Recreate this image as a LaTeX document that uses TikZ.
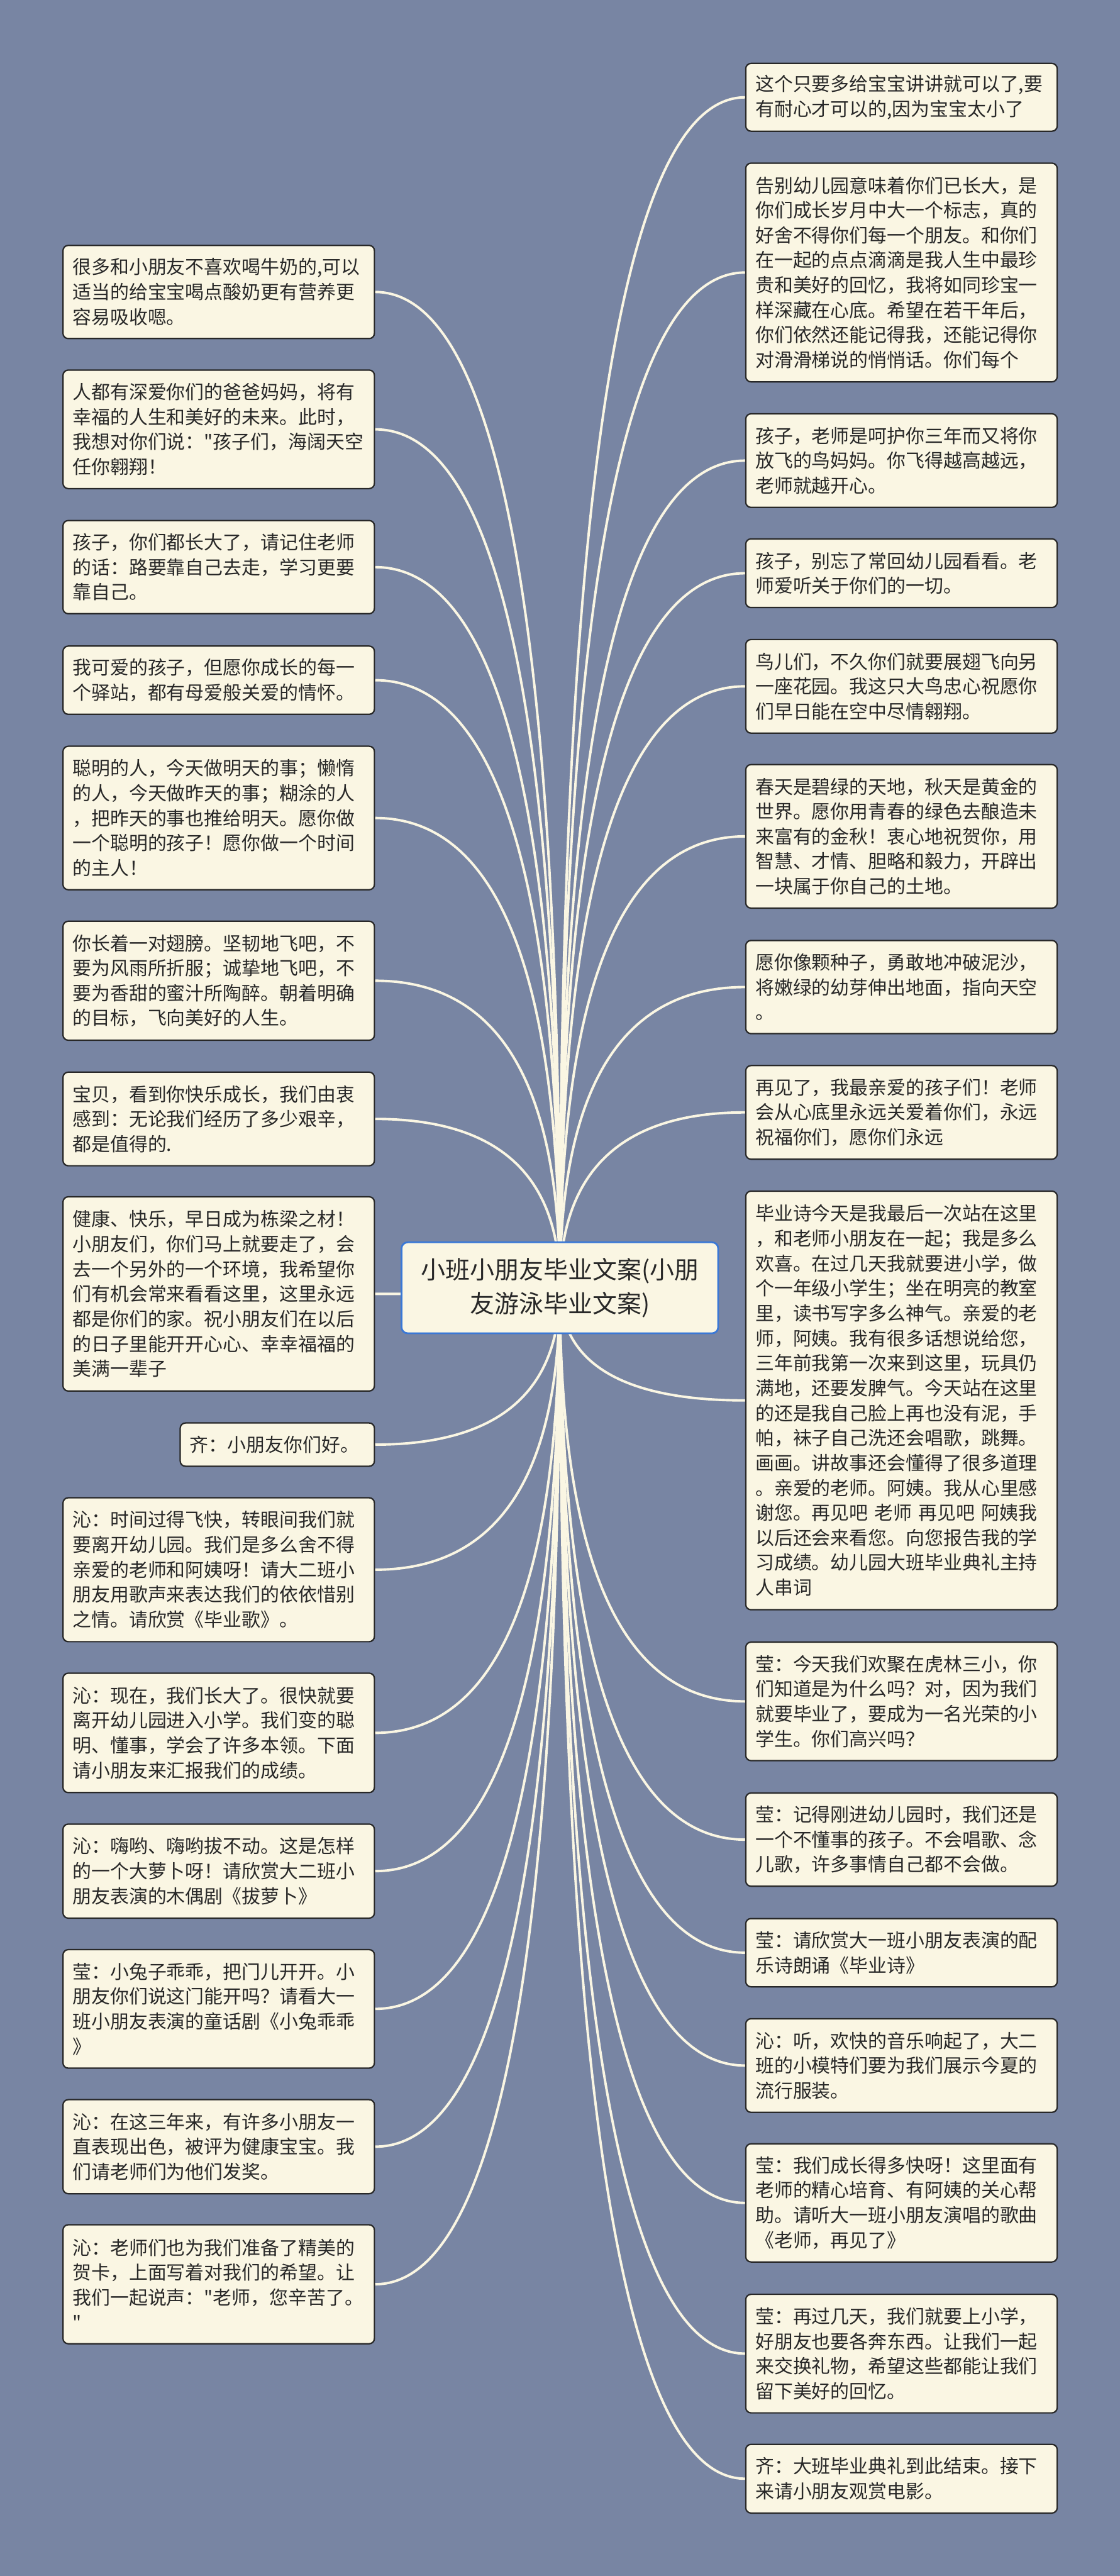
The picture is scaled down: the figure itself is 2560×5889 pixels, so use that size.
\documentclass[tikz,border=0pt]{standalone}
\usepackage{fontspec}
\newfontfamily\cjk{Noto Sans CJK SC}
\usetikzlibrary{calc}
\definecolor{bgc}{RGB}{120,133,163}
\definecolor{boxfill}{RGB}{250,246,227}
\definecolor{boxline}{RGB}{40,40,40}
\definecolor{connc}{RGB}{250,246,227}
\definecolor{rootline}{RGB}{58,120,214}
\definecolor{textc}{RGB}{40,40,40}
\pgfdeclarelayer{background}
\pgfsetlayers{background,main}
\tikzset{
  leafbox/.style={draw=boxline, fill=boxfill, rounded corners=3pt, line width=0.8pt, text=textc,
    align=left, text width=167pt, inner xsep=5.5pt, inner ysep=0pt,
    font=\cjk\fontsize{10.75pt}{14.25pt}\selectfont},
  rootbox/.style={draw=rootline, fill=boxfill, rounded corners=3.5pt, line width=1pt, text=textc,
    align=center, minimum width=181pt, minimum height=52pt, inner sep=0pt,
    font=\cjk\fontsize{14pt}{19.25pt}\selectfont},
  conn/.style={draw=connc, line width=1.4pt}
}
\begin{document}
\begin{tikzpicture}[x=0.25pt,y=-0.25pt]
\useasboundingbox (0,0) rectangle (2560,5889);

\node[rootbox] (root) at (1280,2944) {小班小朋友毕业文案(小朋\\友游泳毕业文案)};

% left column
\node[leafbox, minimum height=53.25pt] (L1) at (500,667.5) {很多和小朋友不喜欢喝牛奶的,可以\\适当的给宝宝喝点酸奶更有营养更\\容易吸收嗯。};
\node[leafbox, minimum height=67.75pt] (L2) at (500,981.5) {人都有深爱你们的爸爸妈妈，将有\\幸福的人生和美好的未来。此时，\\我想对你们说："孩子们，海阔天空\\任你翱翔！};
\node[leafbox, minimum height=53.25pt] (L3) at (500,1296.5) {孩子，你们都长大了，请记住老师\\的话：路要靠自己去走，学习更要\\靠自己。};
\node[leafbox, minimum height=39pt] (L4) at (500,1555) {我可爱的孩子，但愿你成长的每一\\个驿站，都有母爱般关爱的情怀。};
\node[leafbox, minimum height=82pt] (L5) at (500,1870) {聪明的人，今天做明天的事；懒惰\\的人，今天做昨天的事；糊涂的人\\，把昨天的事也推给明天。愿你做\\一个聪明的孩子！愿你做一个时间\\的主人！};
\node[leafbox, minimum height=68pt] (L6) at (500,2242) {你长着一对翅膀。坚韧地飞吧，不\\要为风雨所折服；诚挚地飞吧，不\\要为香甜的蜜汁所陶醉。朝着明确\\的目标，飞向美好的人生。};
\node[leafbox, minimum height=53.5pt] (L7) at (500,2558) {宝贝，看到你快乐成长，我们由衷\\感到：无论我们经历了多少艰辛，\\都是值得的.};
\node[leafbox, minimum height=111pt] (L8) at (500,2958) {健康、快乐，早日成为栋梁之材！\\小朋友们，你们马上就要走了，会\\去一个另外的一个环境，我希望你\\们有机会常来看看这里，这里永远\\都是你们的家。祝小朋友们在以后\\的日子里能开开心心、幸幸福福的\\美满一辈子};
\node[leafbox, text width=100pt, minimum height=24.75pt] (L9) at (634,3302.5) {齐：小朋友你们好。};
\node[leafbox, minimum height=82.25pt] (L10) at (500,3588.5) {沁：时间过得飞快，转眼间我们就\\要离开幼儿园。我们是多么舍不得\\亲爱的老师和阿姨呀！请大二班小\\朋友用歌声来表达我们的依依惜别\\之情。请欣赏《毕业歌》。};
\node[leafbox, minimum height=68.25pt] (L11) at (500,3961.5) {沁：现在，我们长大了。很快就要\\离开幼儿园进入小学。我们变的聪\\明、懂事，学会了许多本领。下面\\请小朋友来汇报我们的成绩。};
\node[leafbox, minimum height=53.75pt] (L12) at (500,4277.5) {沁：嗨哟、嗨哟拔不动。这是怎样\\的一个大萝卜呀！请欣赏大二班小\\朋友表演的木偶剧《拔萝卜》};
\node[leafbox, minimum height=67.75pt] (L13) at (500,4592.5) {莹：小兔子乖乖，把门儿开开。小\\朋友你们说这门能开吗？请看大一\\班小朋友表演的童话剧《小兔乖乖\\》};
\node[leafbox, minimum height=53.75pt] (L14) at (500,4907.5) {沁：在这三年来，有许多小朋友一\\直表现出色，被评为健康宝宝。我\\们请老师们为他们发奖。};
\node[leafbox, minimum height=68pt] (L15) at (500,5222) {沁：老师们也为我们准备了精美的\\贺卡，上面写着对我们的希望。让\\我们一起说声："老师，您辛苦了。\\"};

% right column
\node[leafbox, minimum height=38.75pt] (R1) at (2061,222.5) {这个只要多给宝宝讲讲就可以了,要\\有耐心才可以的,因为宝宝太小了};
\node[leafbox, minimum height=125pt] (R2) at (2061,623) {告别幼儿园意味着你们已长大，是\\你们成长岁月中大一个标志，真的\\好舍不得你们每一个朋友。和你们\\在一起的点点滴滴是我人生中最珍\\贵和美好的回忆，我将如同珍宝一\\样深藏在心底。希望在若干年后，\\你们依然还能记得我，还能记得你\\对滑滑梯说的悄悄话。你们每个};
\node[leafbox, minimum height=53.5pt] (R3) at (2061,1053) {孩子，老师是呵护你三年而又将你\\放飞的鸟妈妈。你飞得越高越远，\\老师就越开心。};
\node[leafbox, minimum height=39.25pt] (R4) at (2061,1310.5) {孩子，别忘了常回幼儿园看看。老\\师爱听关于你们的一切。};
\node[leafbox, minimum height=53.5pt] (R5) at (2061,1569) {鸟儿们，不久你们就要展翅飞向另\\一座花园。我这只大鸟忠心祝愿你\\们早日能在空中尽情翱翔。};
\node[leafbox, minimum height=82pt] (R6) at (2061,1912) {春天是碧绿的天地，秋天是黄金的\\世界。愿你用青春的绿色去酿造未\\来富有的金秋！衷心地祝贺你，用\\智慧、才情、胆略和毅力，开辟出\\一块属于你自己的土地。};
\node[leafbox, minimum height=53.25pt] (R7) at (2061,2256.5) {愿你像颗种子，勇敢地冲破泥沙，\\将嫩绿的幼芽伸出地面，指向天空\\。};
\node[leafbox, minimum height=53.5pt] (R8) at (2061,2543) {再见了，我最亲爱的孩子们！老师\\会从心底里永远关爱着你们，永远\\祝福你们，愿你们永远};
\node[leafbox, minimum height=239.25pt] (R9) at (2061,3201.5) {毕业诗今天是我最后一次站在这里\\，和老师小朋友在一起；我是多么\\欢喜。在过几天我就要进小学，做\\个一年级小学生；坐在明亮的教室\\里，读书写字多么神气。亲爱的老\\师，阿姨。我有很多话想说给您，\\三年前我第一次来到这里，玩具仍\\满地，还要发脾气。今天站在这里\\的还是我自己脸上再也没有泥，手\\帕，袜子自己洗还会唱歌，跳舞。\\画画。讲故事还会懂得了很多道理\\。亲爱的老师。阿姨。我从心里感\\谢您。再见吧 老师 再见吧 阿姨我\\以后还会来看您。向您报告我的学\\习成绩。幼儿园大班毕业典礼主持\\人串词};
\node[leafbox, minimum height=67.75pt] (R10) at (2061,3889.5) {莹：今天我们欢聚在虎林三小，你\\们知道是为什么吗？对，因为我们\\就要毕业了，要成为一名光荣的小\\学生。你们高兴吗？};
\node[leafbox, minimum height=53.25pt] (R11) at (2061,4205.5) {莹：记得刚进幼儿园时，我们还是\\一个不懂事的孩子。不会唱歌、念\\儿歌，许多事情自己都不会做。};
\node[leafbox, minimum height=39pt] (R12) at (2061,4464) {莹：请欣赏大一班小朋友表演的配\\乐诗朗诵《毕业诗》};
\node[leafbox, minimum height=53.5pt] (R13) at (2061,4722) {沁：听，欢快的音乐响起了，大二\\班的小模特们要为我们展示今夏的\\流行服装。};
\node[leafbox, minimum height=67.5pt] (R14) at (2061,5036) {莹：我们成长得多快呀！这里面有\\老师的精心培育、有阿姨的关心帮\\助。请听大一班小朋友演唱的歌曲\\《老师，再见了》};
\node[leafbox, minimum height=67.75pt] (R15) at (2061,5380.5) {莹：再过几天，我们就要上小学，\\好朋友也要各奔东西。让我们一起\\来交换礼物，希望这些都能让我们\\留下美好的回忆。};
\node[leafbox, minimum height=39.25pt] (R16) at (2061,5666.5) {齐：大班毕业典礼到此结束。接下\\来请小朋友观赏电影。};

\begin{pgfonlayer}{background}
\fill[bgc] (0,0) rectangle (2560,5889);
\foreach \i in {1,...,15} {
  \draw[conn] (root.center) .. controls ($(root.center)!0.6667!(root.center|-L\i.east)$)
    and ($(L\i.east)!0.6667!(root.center|-L\i.east)$) .. (L\i.east);
}
\foreach \i in {1,...,16} {
  \draw[conn] (root.center) .. controls ($(root.center)!0.6667!(root.center|-R\i.west)$)
    and ($(R\i.west)!0.6667!(root.center|-R\i.west)$) .. (R\i.west);
}
\end{pgfonlayer}
\end{tikzpicture}
\end{document}
